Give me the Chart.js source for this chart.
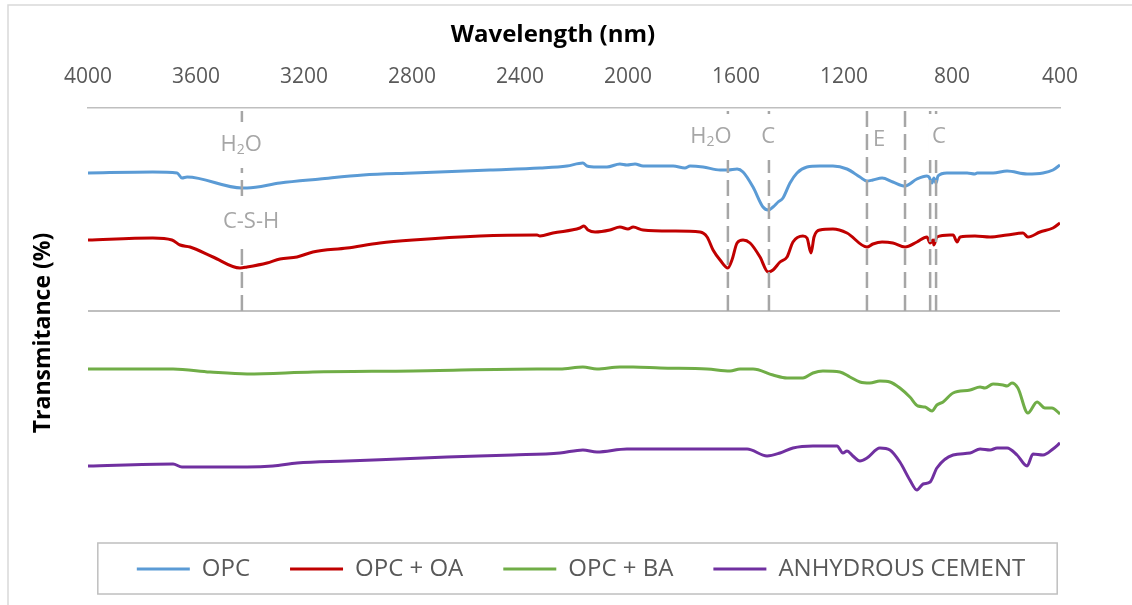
<!DOCTYPE html>
<html>
<head>
<meta charset="utf-8">
<title>FTIR spectra</title>
<script src="https://cdn.jsdelivr.net/npm/chart.js@4.4.1/dist/chart.umd.min.js"></script>
<style>
    html, body { margin: 0; padding: 0; background: #fff; overflow: hidden; }
    #wrap { position: relative; width: 1132px; height: 605px; }
</style>
</head>
<body>
<div id="wrap"><canvas id="ftirChart"></canvas></div>
<script>
// FTIR spectra - transmittance vs wavelength, four samples stacked

// x axis tick labels
const xTicks = [4000, 3600, 3200, 2800, 2400, 2000, 1600, 1200, 800, 400];

const seriesNames = ['OPC', 'OPC + OA', 'OPC + BA', 'ANHYDROUS CEMENT'];

// OPC
const opcWave = [4000, 3760, 3670, 3652, 3633, 3430, 3411, 3289, 3141, 2981, 2796, 2511, 2326, 2226, 2167, 2152, 2115, 2078, 2030, 2004, 1974, 1944, 1833, 1789, 1770, 1722, 1659, 1630, 1596, 1574, 1537, 1500, 1481, 1463, 1444, 1426, 1400, 1374, 1337, 1289, 1241, 1189, 1141, 1115, 1093, 1059, 1019, 974, 930, 893, 885, 874, 867, 859, 852, 819, 744, 715, 707, 648, 596, 522, 463, 426, 400];
const opcValues = [170.5, 171, 170.5, 168, 168.5, 163, 163, 165.5, 167.5, 169.5, 170.5, 172, 173, 174, 175.5, 174, 173.5, 173.5, 175, 174.5, 175, 174, 174, 173, 174, 173.5, 172, 172, 172.5, 171, 163.5, 153.5, 152, 153.5, 156, 158, 165.5, 170.5, 173.5, 174, 174, 172.5, 168.5, 166.5, 167, 168, 166, 164, 167.5, 169, 168.5, 165.5, 168, 165.5, 169, 170.5, 170.5, 170, 170.5, 170.5, 171.5, 170, 170.5, 172, 174.5];

// OPC + OA
const oaWave = [4000, 3760, 3689, 3659, 3622, 3537, 3437, 3411, 3337, 3289, 3226, 3167, 3041, 2919, 2796, 2548, 2337, 2326, 2278, 2178, 2163, 2148, 2122, 2067, 2030, 2000, 1981, 1944, 1833, 1733, 1707, 1685, 1659, 1630, 1615, 1596, 1574, 1548, 1511, 1481, 1463, 1437, 1411, 1389, 1352, 1337, 1322, 1311, 1289, 1241, 1189, 1115, 1093, 1059, 1019, 974, 930, 893, 881, 870, 867, 856, 807, 796, 781, 770, 715, 659, 596, 537, 519, 474, 426, 400];
const oaValues = [137, 138, 137, 134.5, 133.5, 128.5, 123, 123.5, 125.5, 127.5, 128.5, 131, 133, 135.5, 137, 139, 139.5, 139, 140.5, 143, 144, 142, 141, 142, 143.5, 142.5, 143.5, 142, 141.5, 141, 138.5, 132, 127, 123, 127, 135.5, 137, 135.5, 128.5, 121, 122, 126, 128.5, 136, 139, 138, 130.5, 138.5, 142, 142.5, 140.5, 133.5, 135, 136, 135.5, 133.5, 136, 138.5, 135.5, 137, 134.5, 138.5, 139.5, 139.5, 136, 138.5, 139, 138.5, 139.5, 140.5, 138.5, 141, 143, 145.5];

// OPC + BA
const baWave = [4000, 3685, 3548, 3411, 3167, 2796, 2337, 2252, 2167, 2115, 2030, 1981, 1881, 1707, 1622, 1585, 1537, 1463, 1411, 1352, 1315, 1278, 1215, 1178, 1141, 1104, 1067, 1030, 993, 956, 926, 900, 874, 856, 833, 796, 733, 696, 678, 648, 611, 596, 578, 556, 519, 485, 456, 430, 400];
const baValues = [72.5, 72.5, 71, 70, 71, 71.5, 72.5, 72.5, 73.5, 72.5, 73.5, 73.5, 73, 72.5, 71.5, 72.5, 72.5, 69.5, 68, 68, 70.5, 71.5, 71, 68.5, 66, 65.5, 66.5, 66, 63, 58.5, 54, 53.5, 51.5, 54.5, 56, 60.5, 62, 63.5, 63, 65, 64.5, 64, 65.5, 63, 50.5, 56, 53, 53, 50];

// ANHYDROUS CEMENT
const anWave = [4000, 3685, 3652, 3559, 3411, 3315, 3226, 3041, 2670, 2426, 2252, 2167, 2115, 2004, 1881, 1633, 1559, 1485, 1437, 1389, 1315, 1226, 1204, 1189, 1167, 1141, 1115, 1067, 1030, 993, 956, 930, 907, 881, 856, 796, 733, 696, 659, 633, 596, 559, 522, 500, 463, 426, 400];
const anValues = [24, 25, 23.5, 23.5, 23.5, 24, 25.5, 26.5, 28.5, 29.5, 30.5, 32, 31, 32.5, 32.5, 32.5, 32.5, 29, 30.5, 33, 34, 34, 30.5, 31.5, 29, 26.5, 28, 33, 32, 26, 17, 12, 15, 16, 23, 29.5, 30.5, 32.5, 32, 33, 33, 29.5, 24, 30, 29.5, 32.5, 35.5];

// band markers (dashed verticals) and their labels
const markerWaves = [3430, 1630, 1478, 1115, 974, 881, 859];
const markerLabels = [
    { text: 'H₂O', wave: 3433, value: 184.5 },
    { text: 'C-S-H', wave: 3396, value: 146 },
    { text: 'H₂O', wave: 1693, value: 188.5 },
    { text: 'C', wave: 1481, value: 188.5 },
    { text: 'E', wave: 1070, value: 187 },
    { text: 'C', wave: 848, value: 188.5 }
];

// arbitrary transmittance scale (offset curves)
const Y_MIN = -1.5;
const Y_MAX = 203;
const AXIS_MID = 101.5;

const COLORS = {
    opc: '#5B9BD5',
    oa: '#C00000',
    ba: '#70AD47',
    anhydrous: '#7030A0',
    marker: '#A6A6A6',
    axis: '#BFBFBF',
    frame: '#D9D9D9',
    text: '#595959'
};

const FONT = "'Open Sans', sans-serif";
Chart.defaults.font.family = FONT;
Chart.defaults.color = COLORS.text;

function zip(xs, ys) {
    return xs.map((x, i) => ({ x: x, y: ys[i] }));
}

const curveSets = [
    { label: seriesNames[0], data: zip(opcWave, opcValues), borderColor: COLORS.opc },
    { label: seriesNames[1], data: zip(oaWave, oaValues), borderColor: COLORS.oa },
    { label: seriesNames[2], data: zip(baWave, baValues), borderColor: COLORS.ba },
    { label: seriesNames[3], data: zip(anWave, anValues), borderColor: COLORS.anhydrous }
].map(d => Object.assign(d, {
    backgroundColor: d.borderColor,
    borderWidth: 3,
    pointRadius: 0,
    fill: false,
    cubicInterpolationMode: 'monotone',
    order: 0
}));

const markerSets = markerWaves.map(w => ({
    label: 'marker',
    data: [{ x: w, y: AXIS_MID }, { x: w, y: Y_MAX }],
    borderColor: COLORS.marker,
    borderWidth: 2.5,
    borderDash: [16, 7],
    pointRadius: 0,
    tension: 0,
    order: -1
}));

// draws "H₂O" with a real lowered subscript
function drawLabelText(ctx, text, cx, cy, size) {
    const parts = text.split('₂');
    if (parts.length === 1) {
        ctx.font = size + 'px ' + FONT;
        ctx.textAlign = 'center';
        ctx.fillText(text, cx, cy);
        return;
    }
    const subSize = Math.round(size * 0.65);
    ctx.font = size + 'px ' + FONT;
    const w1 = ctx.measureText(parts[0]).width;
    const w3 = ctx.measureText(parts[1]).width;
    ctx.font = subSize + 'px ' + FONT;
    const w2 = ctx.measureText('2').width;
    const x = cx - (w1 + w2 + w3) / 2;
    ctx.textAlign = 'left';
    ctx.font = size + 'px ' + FONT;
    ctx.fillText(parts[0], x, cy);
    ctx.font = subSize + 'px ' + FONT;
    ctx.fillText('2', x + w1, cy + size * 0.22);
    ctx.font = size + 'px ' + FONT;
    ctx.fillText(parts[1], x + w1 + w2, cy);
}

function measureLabel(ctx, text, size) {
    const parts = text.split('₂');
    ctx.font = size + 'px ' + FONT;
    let w = ctx.measureText(parts.join('')).width;
    if (parts.length > 1) {
        ctx.font = Math.round(size * 0.65) + 'px ' + FONT;
        w += ctx.measureText('2').width;
    }
    return w;
}

const decorations = {
    id: 'decorations',
    beforeDraw(chart) {
        const ctx = chart.ctx;
        ctx.save();
        ctx.fillStyle = '#fff';
        ctx.fillRect(0, 0, chart.width, chart.height);
        // outer frame (cropped on right and bottom)
        ctx.strokeStyle = COLORS.frame;
        ctx.lineWidth = 1.5;
        ctx.beginPath();
        ctx.moveTo(8, chart.height + 5);
        ctx.lineTo(8, 5);
        ctx.lineTo(chart.width + 5, 5);
        ctx.stroke();
        ctx.restore();
    },
    afterDatasetsDraw(chart) {
        const ctx = chart.ctx;
        const xs = chart.scales.x, ys = chart.scales.y;
        const size = 22;
        ctx.save();
        ctx.textBaseline = 'middle';
        markerLabels.forEach(l => {
            const px = xs.getPixelForValue(l.wave);
            const py = ys.getPixelForValue(l.value);
            const w = measureLabel(ctx, l.text, size);
            ctx.fillStyle = '#fff';
            ctx.fillRect(px - w / 2 - 4, py - 23, w + 8, 46);
            ctx.fillStyle = COLORS.marker;
            drawLabelText(ctx, l.text, px, py, size);
        });
        ctx.restore();
    },
    afterDraw(chart) {
        const ctx = chart.ctx;
        ctx.save();
        ctx.fillStyle = '#000';
        ctx.textAlign = 'center';
        ctx.textBaseline = 'middle';
        ctx.font = 'bold 24px ' + FONT;
        ctx.fillText('Wavelength (nm)', 553, 35);
        ctx.translate(43, 333);
        ctx.rotate(-Math.PI / 2);
        ctx.font = 'bold 23px ' + FONT;
        ctx.fillText('Transmitance (%)', 0, 0);
        ctx.restore();

        // legend frame
        const boxes = chart.legend.legendHitBoxes;
        if (boxes && boxes.length) {
            const first = boxes[0], last = boxes[boxes.length - 1];
            const cy = first.top + first.height / 2;
            ctx.save();
            ctx.strokeStyle = COLORS.axis;
            ctx.lineWidth = 1.5;
            ctx.strokeRect(first.left - 39, cy - 26, last.left + last.width + 32 - (first.left - 39), 51);
            ctx.restore();
        }
    }
};

new Chart(document.getElementById('ftirChart'), {
    type: 'line',
    data: { datasets: curveSets.concat(markerSets) },
    options: {
        responsive: true,
        maintainAspectRatio: false,
        animation: false,
        events: [],
        layout: { padding: { left: 40, right: 10, top: 0, bottom: 14 } },
        plugins: {
            tooltip: { enabled: false },
            legend: {
                position: 'bottom',
                labels: {
                    filter: item => item.datasetIndex < seriesNames.length,
                    usePointStyle: true,
                    pointStyle: 'line',
                    pointStyleWidth: 53,
                    padding: 40,
                    color: COLORS.text,
                    font: { size: 24 }
                }
            }
        },
        scales: {
            x: {
                type: 'linear',
                position: 'top',
                reverse: true,
                min: 400,
                max: 4000,
                afterBuildTicks: s => { s.ticks = xTicks.map(v => ({ value: v })); },
                afterFit: s => { s.height = 108; },
                ticks: { padding: 18, color: COLORS.text, font: { size: 21 }, maxRotation: 0, callback: v => String(v) },
                grid: { display: false, drawTicks: false },
                border: { display: true, color: COLORS.axis, width: 1.5 }
            },
            y: {
                min: Y_MIN,
                max: Y_MAX,
                afterBuildTicks: s => { s.ticks = [{ value: AXIS_MID }]; },
                afterFit: s => { s.width = 48; },
                ticks: { display: false },
                grid: { color: COLORS.axis, lineWidth: 2, drawTicks: false },
                border: { display: false }
            },
            // empty spacer on the right so the plot ends at 400 nm where the reference does
            yRight: {
                position: 'right',
                afterFit: s => { s.width = 62; },
                ticks: { display: false },
                grid: { display: false, drawTicks: false },
                border: { display: false }
            }
        }
    },
    plugins: [decorations]
});
</script>
</body>
</html>
